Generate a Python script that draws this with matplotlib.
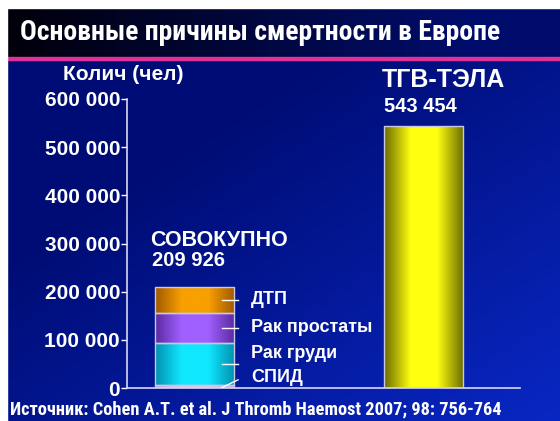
import matplotlib.pyplot as plt
import matplotlib.font_manager as fm
from matplotlib.colors import LinearSegmentedColormap
import numpy as np

# data
causes = ["СПИД", "Рак груди", "Рак простаты", "ДТП"]
deaths = [5860, 86831, 63636, 53599]
vte_label = "ТГВ-ТЭЛА"
vte_deaths = 543454
yticks = [0, 100000, 200000, 300000, 400000, 500000, 600000]

plt.rcParams["font.family"] = ["Liberation Sans", "DejaVu Sans"]

# look for an upright condensed bold face for the title and the source line
narrow_file = None
for f in fm.fontManager.ttflist:
    tag = (f.name + " " + f.fname).lower()
    if ("narrow" in tag or "condensed" in tag) and f.style == "normal" \
            and "italic" not in tag and f.weight in (600, 700, "bold"):
        narrow_file = f.fname
        if "liberation" in tag or "arial" in tag:
            break
if narrow_file:
    narrow = fm.FontProperties(fname=narrow_file)
else:
    narrow = fm.FontProperties(family="Liberation Sans", weight="bold")

W, H = 560, 421
fig = plt.figure(figsize=(W / 100, H / 100), dpi=100)


def fx(px):
    return px / W


def fy(py):
    return 1 - py / H


# background
bg = fig.add_axes([0, 0, 1, 1], zorder=-2)
gx, gy = np.meshgrid(np.linspace(0, 1, 200), np.linspace(0, 1, 200))
t = np.clip(0.6 * gx + 0.7 * gy - 0.45, 0, 1)
c0 = np.array([0.0, 0.05, 0.46])
c1 = np.array([0.04, 0.17, 0.82])
img = c0 + (c1 - c0) * t[..., None]
bg.imshow(img, extent=(0, W, H, 0), aspect="auto")
# title band
band = np.linspace(0, 1, 300)
tb0 = np.array([0.0, 0.0, 0.04])
tb1 = np.array([0.0, 0.05, 0.42])
tb = tb0 + (tb1 - tb0) * np.clip(band * 1.2, 0, 1)[:, None]
bg.imshow(tb[None, :, :], extent=(7, W, 57, 8), aspect="auto")
bg.fill_between([7, W], 57, 60, color="#e0309a")
bg.fill_between([0, 7], 0, H, color="white")
bg.fill_between([0, W], 0, 8, color="white")
bg.set_xlim(0, W)
bg.set_ylim(H, 0)
bg.axis("off")

# main axes
ax = fig.add_axes([fx(127), fy(388), fx(520 - 127), (388 - 99) / H])
ax.set_facecolor("none")
ax.set_xlim(-0.295, 1.421)
ax.set_ylim(0, 600000)
ax.autoscale(False)
width = 0.345


def grad_bar(x, y0, y1, edge, center):
    cmap = LinearSegmentedColormap.from_list("g", [edge, center, center, edge])
    ax.imshow(np.linspace(0, 1, 256)[None, :], cmap=cmap, aspect="auto",
              extent=(x - width / 2, x + width / 2, y0, y1), zorder=2)
    ax.add_patch(plt.Rectangle((x - width / 2, y0), width, y1 - y0, fill=False,
                               ec="#c8c8e0", lw=1, zorder=3))


seg_cols = [("#c890e0", "#f0c0f8"), ("#0090b0", "#10e8ff"),
            ("#5a2aa0", "#a060ff"), ("#a05800", "#f8a000")]
bottom = 0
for v, (e, c) in zip(deaths, seg_cols):
    grad_bar(0, bottom, bottom + v, e, c)
    bottom += v
total = bottom
grad_bar(1, 0, vte_deaths, "#6a6a00", "#ffff10")

ax.set_yticks(yticks)
ax.set_yticklabels([f"{v:,}".replace(",", " ") for v in yticks],
                   fontsize=15, fontweight="bold", color="white")
ax.set_xticks([])
ax.tick_params(axis="y", colors="white", length=4, width=1, direction="out", pad=1)
for s in ["top", "right"]:
    ax.spines[s].set_visible(False)
for s in ["left", "bottom"]:
    ax.spines[s].set_color("#d8d8f0")
    ax.spines[s].set_linewidth(1.2)

# leader lines and segment labels
lab_y = [378, 353, 327, 300]
bottom = 0
for i, (v, name) in enumerate(zip(deaths, causes)):
    mid = bottom + v / 2
    bottom += v
    if i == 0:
        ax.plot([0.12, 0.19], [1000, 17000], color="white", lw=1, zorder=4)
    else:
        ax.plot([0.12, 0.19], [mid, mid], color="white", lw=1, zorder=4)
    fig.text(fx(251), fy(lab_y[i]), name, fontsize=13, fontweight="bold",
             color="white", va="center")

fig.text(fx(63), fy(74), "Колич (чел)", fontsize=15, fontweight="bold",
         color="white", va="center")
fig.text(fx(150), fy(240), "СОВОКУПНО", fontsize=15.5, fontweight="bold",
         color="white", va="center")
fig.text(fx(152), fy(261), f"{total:,}".replace(",", " "), fontsize=14.5,
         fontweight="bold", color="white", va="center")
fig.text(fx(382), fy(80), vte_label, fontsize=18, fontweight="bold",
         color="white", va="center")
fig.text(fx(384), fy(107), f"{vte_deaths:,}".replace(",", " "), fontsize=14.5,
         fontweight="bold", color="white", va="center")

fig.text(fx(20), fy(33), "Основные причины смертности в Европе",
         fontsize=20, color="white", va="center", fontproperties=narrow)
fig.text(fx(10), fy(410), "Источник: Cohen A.T. et al. J Thromb Haemost 2007; 98: 756-764",
         fontsize=13.2, color="white", va="center", fontproperties=narrow)

fig.savefig("out.png", dpi=100)
